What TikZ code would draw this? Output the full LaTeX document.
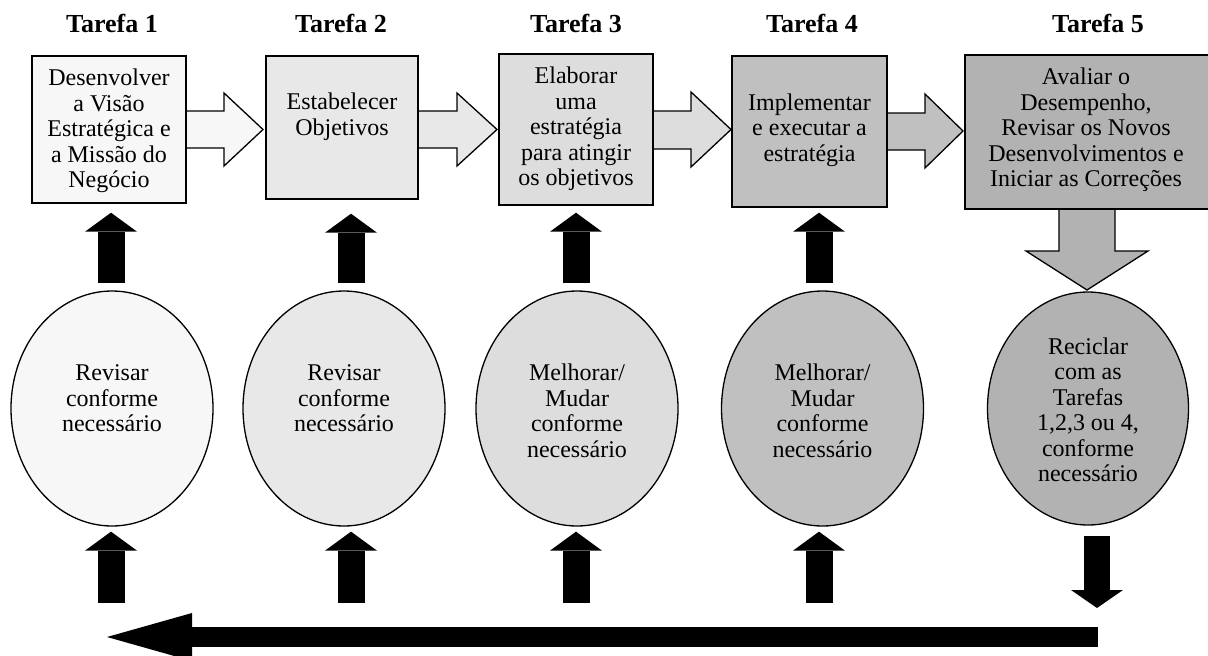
\documentclass[tikz,border=0pt]{standalone}
\usepackage{fontspec}
\setmainfont{Liberation Serif}
\usetikzlibrary{arrows.meta,calc,shapes.geometric}
\definecolor{c1}{HTML}{F7F7F7}
\definecolor{c2}{HTML}{E8E8E8}
\definecolor{c3}{HTML}{DDDDDD}
\definecolor{c4}{HTML}{C0C0C0}
\definecolor{c5}{HTML}{B2B2B2}
\begin{document}
\begin{tikzpicture}[x=1pt,y=-1pt,
  box/.style={draw=black,line width=1.4pt,rectangle,inner sep=0pt},
  oval/.style={draw=black,line width=1.3pt,ellipse,inner sep=0pt,minimum width=202pt,minimum height=235pt},
  txt/.style={align=center,inner sep=0pt,font=\fontsize{24}{25.5}\selectfont},
  title/.style={anchor=base,inner sep=0pt,font=\bfseries\fontsize{26}{30}\selectfont},
  grayarrow/.style={draw=black,line width=1.3pt,line join=miter},
  upblk/.style={draw=black,line width=27pt,-{Triangle[width=52pt,length=19pt,line width=0pt]}},
  dnblk/.style={draw=black,line width=26pt,-{Triangle[width=52pt,length=18pt,line width=0pt]}},
  bigblk/.style={draw=black,line width=20pt,-{Triangle[width=48pt,length=85pt,line width=0pt]}}]
\useasboundingbox (0,0) rectangle (1208,656);

% titles
\node[title] (h1) at (112,32) {Tarefa 1};
\node[title] (h2) at (341,32) {Tarefa 2};
\node[title] (h3) at (576,32) {Tarefa 3};
\node[title] (h4) at (812,32) {Tarefa 4};
\node[title] (h5) at (1098,32) {Tarefa 5};

% block arrows between boxes
\draw[grayarrow,fill=c1] (186,111) -- (224,111) -- (224,93) -- (263,129.5) -- (224,166) -- (224,148) -- (186,148) -- cycle;
\draw[grayarrow,fill=c2] (418,111) -- (457,111) -- (457,93) -- (497,129.5) -- (457,166) -- (457,148) -- (418,148) -- cycle;
\draw[grayarrow,fill=c3] (653,111) -- (691,111) -- (691,92) -- (731,129.5) -- (691,167) -- (691,149) -- (653,149) -- cycle;
\draw[grayarrow,fill=c4] (887,113) -- (925,113) -- (925,94) -- (963,131) -- (925,168) -- (925,150) -- (887,150) -- cycle;
\draw[grayarrow,fill=c5] (1059,209) -- (1059,251) -- (1026,251) -- (1087,290) -- (1148,251) -- (1115,251) -- (1115,209) -- cycle;

% boxes
\node[box,fill=c1,minimum width=154pt,minimum height=147pt] (b1) at (109,129.5) {};
\node[box,fill=c2,minimum width=152pt,minimum height=143pt] (b2) at (342,127.5) {};
\node[box,fill=c3,minimum width=154pt,minimum height=151pt] (b3) at (576,129.5) {};
\node[box,fill=c4,minimum width=155pt,minimum height=151pt] (b4) at (809.5,131.5) {};
\node[box,fill=c5,minimum width=244pt,minimum height=154pt] (b5) at (1087,132) {};

\node[txt] (t1) at (109,131) {Desenvolver\\a Visão\\Estratégica e\\a Missão do\\Negócio};
\node[txt] (t2) at (342,116.5) {Estabelecer\\Objetivos};
\node[txt] (t3) at (576,129) {Elaborar\\uma\\estratégia\\para atingir\\os objetivos};
\node[txt] (t4) at (809.5,130) {Implementar\\e executar a\\estratégia};
\node[txt] (t5) at (1086,130) {Avaliar o\\Desempenho,\\Revisar os Novos\\Desenvolvimentos e\\Iniciar as Correções};

% ellipses
\node[oval,fill=c1] (e1) at (112,408.5) {};
\node[oval,fill=c2] (e2) at (344,408.5) {};
\node[oval,fill=c3] (e3) at (577,408.5) {};
\node[oval,fill=c4] (e4) at (822.5,408.5) {};
\node[oval,fill=c5,minimum width=201pt,minimum height=233pt] (e5) at (1088,408.5) {};

\node[txt] (u1) at (112,398.5) {Revisar\\conforme\\necessário};
\node[txt] (u2) at (344,398.5) {Revisar\\conforme\\necessário};
\node[txt] (u3) at (577,411) {Melhorar/\\Mudar\\conforme\\necessário};
\node[txt] (u4) at (822.5,411) {Melhorar/\\Mudar\\conforme\\necessário};
\node[txt] (u5) at (1088,410) {Reciclar\\com as\\Tarefas\\1,2,3 ou 4,\\conforme\\necessário};

% upper black arrows (ellipse -> box)
\draw[upblk] ($(e1.north)+(-1,-7)$) -- ($(b1.south)+(2,9)$);
\draw[upblk] ($(e2.north)+(7,-7)$) -- ($(b2.south)+(9,14)$);
\draw[upblk] ($(e3.north)+(-1,-7)$) -- ($(b3.south)+(0,7)$);
\draw[upblk] ($(e4.north)+(-3.5,-7)$) -- ($(b4.south)+(9.5,5)$);

% lower black arrows (into ellipses)
\coordinate (l1) at (111,603);
\coordinate (l2) at (351,603);
\coordinate (l3) at (576,603);
\coordinate (l4) at (819,603);
\draw[upblk] (l1) -- ($(e1.south)+(-1,5)$);
\draw[upblk] (l2) -- ($(e2.south)+(7,5)$);
\draw[upblk] (l3) -- ($(e3.south)+(-1,5)$);
\draw[upblk] (l4) -- ($(e4.south)+(-3.5,5)$);

% down arrow from ellipse 5
\coordinate (d5) at (1097,608);
\draw[dnblk] ($(e5.south)+(9,10)$) -- (d5);

% big return arrow
\coordinate (r1) at (1098,637);
\coordinate (r2) at (107,637);
\draw[bigblk] (r1) -- (r2);
\end{tikzpicture}
\end{document}
